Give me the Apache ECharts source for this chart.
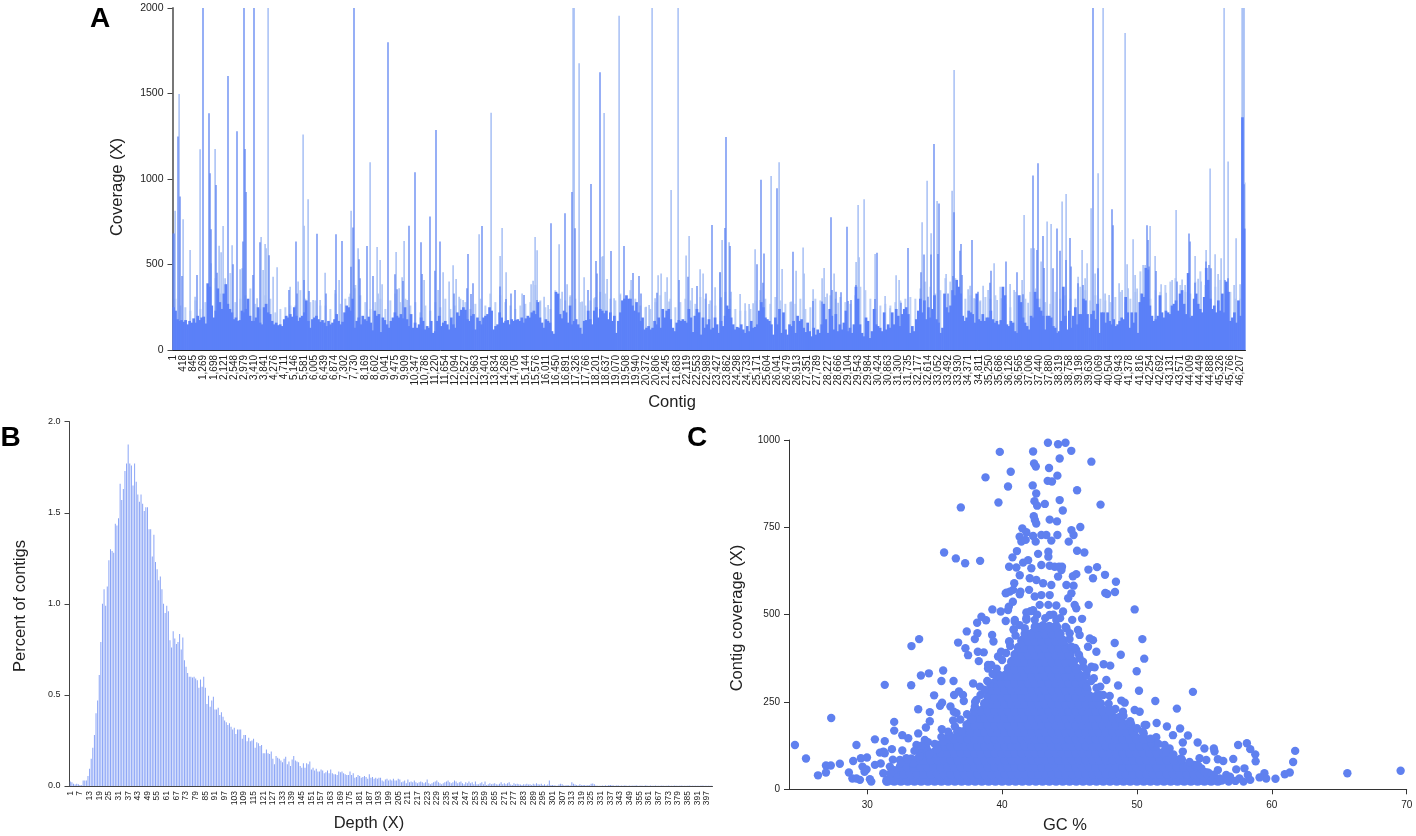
<!DOCTYPE html>
<html><head><meta charset="utf-8">
<style>html,body{margin:0;padding:0;background:#fff}#c{width:1416px;height:836px}</style>
<script src="https://cdn.jsdelivr.net/npm/echarts@6/dist/echarts.min.js"></script>
</head><body><div id="c"></div>
<script>
const contigTicks=["1","418","845","1,269","1,698","2,121","2,548","2,979","3,410","3,841",
"4,276","4,711","5,146","5,581","6,005","6,439","6,874","7,302","7,730","8,169",
"8,602","9,041","9,475","9,909","10,347","10,786","11,220","11,654","12,094","12,527",
"12,963","13,401","13,834","14,268","14,705","15,144","15,576","16,011","16,450","16,891",
"17,326","17,766","18,201","18,637","19,070","19,508","19,940","20,372","20,806","21,245",
"21,683","22,119","22,553","22,989","23,427","23,862","24,298","24,733","25,171","25,604",
"26,041","26,479","26,913","27,351","27,789","28,227","28,666","29,104","29,543","29,984",
"30,424","30,863","31,300","31,735","32,177","32,614","33,052","33,492","33,930","34,371",
"34,811","35,250","35,686","36,126","36,565","37,006","37,440","37,880","38,319","38,758",
"39,198","39,630","40,069","40,504","40,943","41,378","41,816","42,254","42,692","43,131",
"43,571","44,009","44,449","44,888","45,326","45,766","46,207"];
// A: typical coverage, five readings between neighbouring tick labels
const coverageBase=[
250,230,180,170,175, 165,175,150,170,160, 185,160,200,175,190, 195,155,390,370,260, 190,230,360,280,240,
330,385,270,240,220, 180,190,170,175,230, 220,240,300,200,170, 170,190,250,160,150, 250,270,220,210,170,
150,160,145,150,140, 180,200,190,210,195, 250,200,170,190,200, 220,290,170,130,180, 190,200,180,165,175,
160,140,170,150,160, 180,210,170,150,165, 220,260,250,230,300, 130,170,190,150,200, 180,170,195,160,115,
230,200,210,105,190, 175,150,130,170,190, 220,200,190,210,185, 250,180,140,210,130, 160,130,150,190,170,
120,140,130,170,100, 110,170,200,140,160, 170,150,120,190,150, 130,220,200,235,250, 235,180,170,200,210,
120,190,170,150,190, 200,210,250,230,120, 140,150,220,190,160, 170,175,150,180,170, 175,180,170,190,160,
185,200,190,220,230, 210,280,190,160,130, 180,170,160,110,95, 340,330,210,185,230, 220,160,260,150,170,
180,150,130,95,170, 175,230,180,150,230, 250,190,240,230,215, 230,180,220,170,200, 100,170,220,290,300,
320,300,300,260,230, 280,220,170,190,120, 130,140,120,130,170, 150,190,130,240,190, 230,240,180,130,110,
160,175,170,180,170, 160,240,190,105,200, 240,220,90,190,130, 150,180,120,130,190, 150,100,170,140,200,
260,240,190,150,120, 135,130,150,120,100, 140,110,170,130,135, 150,230,280,250,190, 180,170,150,90,190,
150,240,100,220,120, 90,150,140,170,100, 200,170,180,130,105, 160,110,80,130,90, 120,100,150,270,180,
100,240,200,120,210, 110,150,120,160,230, 110,130,100,150,370, 300,150,100,80,190, 170,70,110,240,150,
140,130,110,220,120, 150,130,220,150,240, 200,140,210,240,250, 210,100,140,110,180, 230,300,220,290,180,
250,190,240,320,180, 160,100,130,330,250, 220,260,350,320,410, 370,330,200,170,190, 230,220,210,160,330,
180,170,210,170,190, 190,230,180,160,170, 150,175,370,320,150, 140,170,160,110,100, 320,280,190,160,140,
120,200,190,340,300, 250,230,200,120,200, 200,190,140,130,100, 110,170,370,200,120, 230,130,200,250,150,
210,210,300,290,210, 130,210,230,180,270, 100,220,220,160,220, 170,150,180,140,150, 170,190,180,310,220,
130,220,160,220,100, 280,330,310,480,470, 260,200,170,180,200, 320,220,190,230,220, 210,260,270,290,230,
330,350,270,210,450, 190,200,300,330,270, 240,220,310,480,410, 300,240,260,220,290, 230,330,220,400,340,
170,190,220,160,290, 200,1361,710];
// A: pale fringe above the solid band, two readings per tick interval
const coverageFringe=[
300,260,250,230,290,240,280,300,420,330,380,450,280,300,320,360,270,240,320,300,
220,240,250,260,260,350,300,280,290,260,260,240,330,270,300,330,380,320,280,240,
280,300,240,290,330,280,300,260,280,220,260,230,280,250,300,240,260,300,280,240,
270,300,260,330,280,320,280,260,240,260,270,280,380,290,250,240,350,300,290,320,
300,280,260,290,310,340,330,300,290,330,300,350,300,260,250,240,280,320,340,300,
250,280,300,290,270,310,300,290,260,300,340,300,240,230,230,240,290,350,300,270,
310,290,270,280,270,300,240,250,300,290,310,320,300,310,280,270,320,370,350,300,
240,260,270,260,280,290,300,310,300,360,400,370,330,350,420,400,420,330,300,320,
300,290,310,300,320,370,270,250,340,320,300,340,360,300,280,270,340,300,320,300,
300,370,350,290,320,300,290,280,310,340,280,300,340,460,320,300,350,340,380,400,
420,380,340,330,400,460,380,350,370,410,300,340,300,300];
// A: isolated high contigs [contig bin, coverage]
const paleSpikes=[[2,815],[6,1497],[10,764],[17,585],[22,312],[27,1174],[38,507],[42,1176],[46,610],[48,571],[50,725],[52,419],[59,612],[67,472],[69,478],[84,302],[88,661],[90,468],[92,620],[93,595],[95,2000],[100,429],[104,484],[117,370],[125,400],[130,1260],[131,727],[135,881],[140,292],[147,292],[152,452],[162,351],[166,410],[176,312],[178,815],[182,361],[185,595],[197,1098],[204,603],[205,331],[207,526],[209,384],[223,573],[226,361],[229,425],[231,638],[234,292],[251,410],[265,351],[270,454],
[276,400],[280,495],[283,415],[286,312],[290,292],[306,677],[318,1388],[327,550],[329,714],[333,454],[349,331],[358,384],[360,405],[362,661],[364,583],[367,283],[371,312],[375,263],[386,618],[389,341],[394,384],[397,312],[400,2000],[401,2000],[406,1677],[409,283],[411,425],[421,302],[429,546],[430,550],[431,1386],[434,415],[441,302],[446,1954],[447,322],[458,410],[473,253],[476,263],[479,2000],[482,302],[485,437],[488,448],[494,425],[496,283],[498,936],[505,2000],[513,552],[516,667],[519,363],[527,472],[530,448],[536,269],[542,367],[547,454],
[549,643],[556,630],[558,341],[567,328],[572,273],[576,269],[580,273],[582,589],[587,292],[598,1018],[606,1098],[609,474],[618,283],[623,464],[630,600],[631,448],[640,355],[649,419],[651,480],[654,331],[661,448],[665,277],[683,515],[685,848],[686,542],[691,881],[702,562],[712,316],[717,244],[723,437],[726,410],[749,747],[754,990],[758,683],[764,872],[773,445],[779,932],[781,1638],[795,355],[797,376],[801,302],[807,283],[810,376],[815,351],[821,507],
[824,292],[828,302],[837,386],[841,351],[849,410],[851,790],[855,277],[858,595],[861,595],[868,517],[874,751],[878,737],[889,868],[893,913],[905,429],[909,585],[912,419],[914,507],[918,829],[922,448],[925,1033],[930,2000],[932,331],[936,322],[946,390],[949,351],[952,1854],[954,501],[955,361],[960,647],[962,439],[964,359],[968,331],[970,497],[972,497],[977,725],[982,550],[988,384],[993,335],[999,410],[1003,819],[1009,413],[1012,380],[1022,550],[1025,417],[1028,400],[1033,585],[1037,1061],[1042,560],[1045,445],[1048,536],[1051,2000],[1055,1102],[1061,380],[1063,653],[1067,384],[1069,2000],[1070,2000],[1071,2000],[1072,979]];
const strongSpikes=[[0,682],[1,682],[5,1248],[7,897],[9,433],[24,439],[30,2000],[36,1385],[37,1033],[38,706],[43,965],[44,452],[55,1603],[60,501],[64,1279],[70,634],[71,2000],[72,1176],[73,924],[80,439],[81,2000],[87,630],[96,554],[116,351],[123,634],[124,331],[131,410],[136,345],[144,680],[153,331],[163,677],[169,638],[178,487],[180,716],[181,2000],[186,530],[187,419],[194,608],[200,433],[215,1800],[222,443],[224,355],[230,404],[236,727],[242,1039],[248,630],[249,445],[257,780],[262,464],[263,1287],[267,634],
[281,331],[294,361],[295,561],[298,328],[300,390],[309,725],[327,371],[333,298],[338,331],[342,351],[351,322],[364,293],[378,741],[392,800],[399,924],[402,712],[415,351],[418,971],[423,520],[424,448],[427,1624],[438,579],[451,608],[460,450],[466,433],[468,331],[484,335],[506,410],[515,429],[524,374],[533,331],[539,731],
[547,454],[548,308],[552,714],[553,1246],[557,608],[584,501],[588,995],[590,394],[591,565],[604,946],[620,575],[640,287],[649,283],[658,776],[659,351],[663,341],[668,337],[674,721],[675,287],[678,292],[683,380],[702,298],[704,569],[728,277],[735,597],[748,454],[751,558],[755,312],[758,558],[761,1205],[765,562],[766,856],[775,331],[780,433],[781,805],[787,581],[788,620],[789,439],[799,643],[805,341],[817,394],[818,464],
[833,517],[844,454],[850,326],[860,1020],[864,585],[865,1092],[870,667],[871,480],[880,478],[884,710],[887,581],[893,526],[897,655],[898,488],[905,390],[910,380],[920,2000],[925,478],[939,823],[940,729],[974,729],[975,643],[976,488],[983,462],[1004,400],[1016,682],[1017,634],[1022,394],[1033,517],[1036,497],[1038,478],[1052,410],[1055,419],[1071,969]];

// B: percent of contigs for depth 1..400
const depthPercent=[
.025,.02,.012,.008,.012,.01,.005,.004,.03,.03,
.03,.055,.095,.15,.21,.28,.40,.47,.61,.79,
1.0,1.08,.99,1.095,1.24,1.30,1.29,1.28,1.44,1.43,
1.47,1.66,1.57,1.63,1.73,1.77,1.875,1.77,1.76,1.65,
1.77,1.67,1.60,1.56,1.60,1.55,1.51,1.53,1.53,1.41,
1.41,1.26,1.38,1.23,1.19,1.13,1.15,1.08,1.0,.95,
.99,.96,.80,.76,.85,.81,.78,.79,.835,.75,
.815,.69,.655,.62,.60,.60,.595,.60,.59,.58,
.54,.585,.545,.60,.54,.45,.495,.435,.47,.49,
.42,.42,.43,.39,.405,.38,.36,.35,.335,.345,
.325,.31,.32,.285,.31,.31,.31,.26,.28,.28,
.245,.265,.245,.25,.26,.21,.24,.235,.22,.225,
.18,.18,.20,.18,.175,.19,.15,.12,.165,.155,
.15,.14,.13,.15,.16,.12,.135,.11,.145,.165,
.14,.135,.13,.11,.10,.125,.10,.125,.12,.135,
.09,.10,.085,.095,.08,.08,.09,.085,.07,.075,
.085,.07,.09,.07,.065,.065,.06,.08,.075,.08,
.07,.065,.06,.06,.08,.06,.07,.045,.05,.06,
.055,.045,.05,.055,.05,.04,.065,.045,.05,.04,
.045,.04,.045,.045,.03,.025,.035,.04,.03,.035,
.03,.04,.03,.03,.04,.035,.02,.025,.03,.015,
.035,.02,.025,.02,.03,.02,.015,.02,.025,.02,
.015,.02,.035,.015,.01,.015,.02,.025,.03,.02,
.015,.01,.015,.02,.025,.03,.02,.015,.02,.03,
.025,.015,.02,.025,.015,.01,.02,.015,.025,.015,
.02,.01,.025,.01,.01,.015,.02,.01,.025,.005,
.01,.015,.01,.012,.015,.01,.008,.012,.02,.01,
.015,.01,.015,.02,.008,.005,.015,.01,.012,.01,
.008,.006,.01,.008,.012,.008,.01,.006,.012,.008,
.015,.01,.008,.012,.006,.01,.004,.008,.03,.006,
.005,.004,.003,.002,.008,.012,.01,.004,.003,.005,
.004,.003,.02,.012,.008,.005,.003,.01,.004,.006,
.005,.003,.006,.004,.012,.014,.01,.003,.002,.002,
.002,.003,.002,.004,.002,.005,.006,.004,.003,.002,
.004,.003,.002,.003,.002,.004,.002,.002,.003,.002,
.003,.002,.004,.002,.002,.003,.002,.002,.004,.002,
.002,.003,.002,.002,.003,.002,.002,.002,.003,.002,
.002,.002,.003,.002,.002,.002,.003,.002,.002,.002,
.003,.002,.002,.002,.002,.003,.002,.002,.002,.002,
.002,.002,.002,.003,.002,.002,.002,.002,.002,.002];

// C: scattered contigs [GC %, coverage]
const outlierContigs=[[24.64,127],[25.46,88],[26.35,40],[26.94,48],[26.94,68],[27.3,68],[27.97,73],[27.33,204],[28.64,48],[28.96,81],[29.2,127],[28.9,31],[29.2,31],[29.46,27],[29.53,89],[29.98,91],[29.65,65],[29.95,57],[29.8,50],[30.3,22],[30.2,29],[30.57,143],[30.57,70],[31,74],[30.94,105],[31.2,108],[31.3,138],[31.3,299],[31.83,115],[32,193],[32,168],[32.6,111],[32.6,155],[33.04,146],[33.26,298],[33.28,410],[33.85,430],[33.78,229],[33.78,160],[33.98,326],[34.57,332],[34.64,221],[34.64,195],[34.35,177],[35.63,340],[35.5,310],[36.4,310],[34.96,269],[35.4,239],[35.55,248],[35.53,172],[36.17,237],[36.42,222],[36.62,218],[36.37,197],[36.44,270],[36.8,280],[37.1,270],[37.16,253],[35.7,678],[36.57,661],[37.26,647],[36.94,807],[38.37,654],[36.74,420],[37.38,452],[37.28,404],[37.48,384],[37.98,430],[38.17,447],[38.15,477],[38.47,494],[38.81,484],[39.28,515],[39.26,442],[39.36,423],[38.2,394],[38.64,392],[39.93,394],[38.27,367],[38.96,356],[39.2,356],[39.7,380],[38.77,893],[39.73,821],[39.83,966],[40.44,867],[40.64,909],[39.9,509],[40.27,482],[40.44,513],[40.5,523],[40.8,537],[40.27,561],[40.57,566],[40.9,590],[40.94,480],[40.86,458],[40.57,423],[40.52,637],[41.06,635],[40.77,664],[41.1,682],[41.36,566],[41.3,723],[41.5,747],[41.8,736],[41.43,709],[41.75,714],
[42.3,967],[42.37,933],[42.5,924],[42.27,870],[42.53,847],[42.4,825],[42.6,812],[43.17,817],[42.35,782],[42.43,771],[42.53,761],[43.53,772],[44.07,767],[43.4,992],[44.15,988],[44.7,992],[45.13,969],[44.27,947],[43.48,920],[44.1,898],[43.38,883],[43.7,881],[44.27,828],[44.5,798],[45.56,856],[46.62,938],[47.3,815],[45.8,751],[45.14,742],[45.3,728],[44.94,709],[45.56,683],[46.1,678],[46.4,629],[47.04,636],[46.74,604],[47.63,614],[48.44,594],[48.37,565],[47.65,562],[47.8,559],[46.42,528],[45.93,488],[49.83,515],[50.4,430],[50.54,374],[49.98,338],[50.15,282],[54.15,279],[51.36,253],[52.96,231],[48.35,419],[48.8,385],[47.53,358],[48.02,354],[47.73,313],[48.6,297],[46.37,408],[46.99,394],[46.74,427],[46.5,432],[45.75,442],[45.63,456],[45.2,485],[45.5,518],[44.9,547],[45.5,616],[45.25,610],[45.3,583],[44.44,637],
[42.3,725],[42.91,728],[43.28,728],[44.1,728],[43.65,712],[42.49,709],[42.67,674],[43.43,680],[43.43,666],[41.93,656],[41.56,649],[42.17,633],[42.91,642],[43.53,640],[43.9,637],[44.22,637],[44.4,628],[41.31,613],[42.05,604],[42.54,599],[43.04,590],[43.65,585],[44.15,609],[44.77,585],[42,571],[40.32,563],[40.81,571],[41.31,558],[42.42,552],[42.91,556],[43.53,556],[41.8,506],[42.3,513],[42.79,528],[43.43,528],[44.02,526],[40.94,485],[41.8,485],[42.42,485],[43.04,470],[43.53,499],[44.02,485],[44.52,509],[40.86,456],[41.68,461],[40.52,423],[45.14,561],[45.38,528],
[46.62,351],[46.86,349],[46.25,327],[46.8,318],[47.28,294],[47.98,267],[48.84,254],[49.09,248],[49.83,227],[50.2,222],[48.96,222],[49.4,189],[50.69,184],[50.44,165],[49.7,165],[52.67,155],[51.06,132],[52.05,127],[52.42,117],[46.25,294],[47.2,270],[45.5,399],[45.75,375],[46,351],[45.14,408],[45.01,447],[44.77,461],
[37.85,303],[38.35,294],[37.98,237],[38.1,256],[38.72,246],[39.09,303],[39.83,322],[38.96,346],[37.36,184],[35.63,136],[36.12,155],[34.27,141],[33.65,127],[34.4,117],[31.68,65],[32.42,84],[32.9,89],[33.4,74],[31.3,103],[31.19,46],[31.43,22],
[51.46,190],[52.22,180],[53.2,174],[50.57,184],[53.78,154],[51.43,149],[53.4,134],[54.5,134],[53.4,108],[55,117],[55.7,117],[55.75,108],[54.64,89],[55.14,84],[56,86],[56.4,81],[57.14,87],[57.5,127],[58.15,132],[58.4,115],[58.77,100],[58.8,80],[61.73,110],[61.58,78],[61.33,48],[60.96,43],[60.27,30],[59.45,46],[59.58,31],[59.09,34],[65.6,46],[69.55,53],[57.97,60],[57.36,57],[56.62,41],[56,55],[55.63,29],[58.22,41],[57.6,31],[56.9,36],[56.14,31],[54.77,60],[54.27,70],
[33.5,110],[34,125],[34.5,135],[35,130],[35.5,150],[35.2,115],[34.6,100],[33.9,95],[33,85],[32.5,75],[32,55],[31.7,45],[31.9,85],[36,165],[36.5,180],[37,165],[36.9,200],[37.4,215],[37.8,200],[38,250],[38.4,270],[38.7,285],[38.9,310],[39.3,330],[39.6,345],[40,370],[40.3,390],[40.6,410],[41,440],[41.3,470],[41.8,490],[42.1,510],[42.6,500],[43.2,490],[43.8,500],[44.3,490],[44.7,465],[45,430],[45.4,405],[45.7,385],[46,365],[46.3,340],[46.6,310],[47,290],[47.5,270],[47.9,245],[48.4,230],[49,210],[49.5,195],[50,175],[50.5,160],[51,145],[51.6,130],[52.2,105],[52.7,100],[53.3,85],[53.9,78],[54.5,68],[55,50],[55.7,42],[56.3,25],[56.8,22],[57.3,24],[57.9,22],[58.4,27]];
// C: the dense core, GC % readings at each coverage level
const coreLevels=[25,45,65,85,105,125,145,165,185,205,225,245,265,285,305,325,345,365,385,405,425,445,465];
const coreGc=[
[31.5,32,32.5,33,33.5,34,34.5,35,35.5,36,36.5,37,37.5,38,38.5,39,39.5,40,40.5,41,41.5,42,42.5,43,43.5,44,44.5,45,45.5,46,46.5,47,47.5,48,48.5,49,49.5,50,50.5,51,51.5,52,52.5,53,53.5,54,54.5,55,55.5,56],
[32.25,32.75,33.25,33.75,34.25,34.75,35.25,35.75,36.25,36.75,37.25,37.75,38.25,38.75,39.25,39.75,40.25,40.75,41.25,41.75,42.25,42.75,43.25,43.75,44.25,44.75,45.25,45.75,46.25,46.75,47.25,47.75,48.25,48.75,49.25,49.75,50.25,50.75,51.25,51.75,52.25,52.75,53.25,53.75,54.25,54.75,55.25],
[32.5,33,33.5,34,34.5,35,35.5,36,36.5,37,37.5,38,38.5,39,39.5,40,40.5,41,41.5,42,42.5,43,43.5,44,44.5,45,45.5,46,46.5,47,47.5,48,48.5,49,49.5,50,50.5,51,51.5,52,52.5,53,53.5,54,54.5],
[33.25,33.75,34.25,34.75,35.25,35.75,36.25,36.75,37.25,37.75,38.25,38.75,39.25,39.75,40.25,40.75,41.25,41.75,42.25,42.75,43.25,43.75,44.25,44.75,45.25,45.75,46.25,46.75,47.25,47.75,48.25,48.75,49.25,49.75,50.25,50.75,51.25,51.75,52.25,52.75,53.25],
[34,34.5,35,35.5,36,36.5,37,37.5,38,38.5,39,39.5,40,40.5,41,41.5,42,42.5,43,43.5,44,44.5,45,45.5,46,46.5,47,47.5,48,48.5,49,49.5,50,50.5,51,51.5,52],
[35.25,35.75,36.25,36.75,37.25,37.75,38.25,38.75,39.25,39.75,40.25,40.75,41.25,41.75,42.25,42.75,43.25,43.75,44.25,44.75,45.25,45.75,46.25,46.75,47.25,47.75,48.25,48.75,49.25,49.75,50.25,50.75,51.25],
[36,36.5,37,37.5,38,38.5,39,39.5,40,40.5,41,41.5,42,42.5,43,43.5,44,44.5,45,45.5,46,46.5,47,47.5,48,48.5,49,49.5,50,50.5],
[36.75,37.25,37.75,38.25,38.75,39.25,39.75,40.25,40.75,41.25,41.75,42.25,42.75,43.25,43.75,44.25,44.75,45.25,45.75,46.25,46.75,47.25,47.75,48.25,48.75,49.25,49.75],
[37.5,38,38.5,39,39.5,40,40.5,41,41.5,42,42.5,43,43.5,44,44.5,45,45.5,46,46.5,47,47.5,48,48.5,49,49.5],
[37.75,38.25,38.75,39.25,39.75,40.25,40.75,41.25,41.75,42.25,42.75,43.25,43.75,44.25,44.75,45.25,45.75,46.25,46.75,47.25,47.75,48.25,48.75],
[38,38.5,39,39.5,40,40.5,41,41.5,42,42.5,43,43.5,44,44.5,45,45.5,46,46.5,47,47.5,48],
[38.75,39.25,39.75,40.25,40.75,41.25,41.75,42.25,42.75,43.25,43.75,44.25,44.75,45.25,45.75,46.25,46.75,47.25],
[39,39.5,40,40.5,41,41.5,42,42.5,43,43.5,44,44.5,45,45.5,46,46.5,47],
[39.25,39.75,40.25,40.75,41.25,41.75,42.25,42.75,43.25,43.75,44.25,44.75,45.25,45.75,46.25],
[39.5,40,40.5,41,41.5,42,42.5,43,43.5,44,44.5,45,45.5,46],
[39.75,40.25,40.75,41.25,41.75,42.25,42.75,43.25,43.75,44.25,44.75,45.25,45.75],
[40.5,41,41.5,42,42.5,43,43.5,44,44.5,45,45.5],
[40.75,41.25,41.75,42.25,42.75,43.25,43.75,44.25,44.75,45.25],
[41,41.5,42,42.5,43,43.5,44,44.5,45],
[41.25,41.75,42.25,42.75,43.25,43.75,44.25,44.75],
[41.5,42,42.5,43,43.5,44,44.5],
[41.75,42.25,42.75,43.25,43.75,44.25],
[42.5,43,43.5,44]];
const gcTicks=[30,40,50,60,70];

const FONT='"Liberation Sans",Arial,sans-serif';
const INK='#222';
const fineBins=1073;
const spikeSeries=list=>{const a=new Array(fineBins).fill(null);list.forEach(p=>{a[p[0]]=p[1]});return a};
const fringeSeries=()=>{const a=new Array(fineBins).fill(null);coverageFringe.forEach((v,i)=>{a[i*5+2]=v});return a};
const contigCats=coverageBase.map((_,i)=>i%5===0?contigTicks[i/5]:'');
const fineCats=Array.from({length:fineBins},(_,i)=>i);
const depthCats=depthPercent.map((_,i)=>String(i+1));
const corePoints=[];
coreLevels.forEach((c,i)=>coreGc[i].forEach(g=>corePoints.push([g,c])));

const blue='#5b80f8';
const plain=v=>String(v);
const lab=(text,x,y,size,rot,bold)=>({type:'text',x,y,rotation:rot?Math.PI/2:0,silent:true,style:{text,fill:bold?'#000':INK,textAlign:'center',textVerticalAlign:'middle',font:(bold?'bold ':'')+size+'px '+FONT}});

const chart=echarts.init(document.getElementById('c'),null,{renderer:'canvas'});
chart.setOption({
 animation:false,backgroundColor:'#fff',textStyle:{fontFamily:FONT},
 grid:[
  {left:172.5,top:8,width:1073,height:342},
  {left:69.5,top:421.7,width:643,height:364.3},
  {left:789,top:440,width:617.7,height:349.3}],
 xAxis:[
  {type:'category',gridIndex:0,data:contigCats,axisTick:{show:false},axisLine:{lineStyle:{color:'#222',width:1}},
   axisLabel:{interval:4,rotate:90,margin:5,fontSize:10,color:INK,fontFamily:FONT}},
  {type:'category',gridIndex:0,data:fineCats,show:false},
  {type:'category',gridIndex:1,data:depthCats,axisTick:{show:false},axisLine:{lineStyle:{color:'#444',width:1}},
   axisLabel:{interval:5,rotate:90,margin:5,fontSize:8.5,color:INK,fontFamily:FONT}},
  {type:'value',gridIndex:2,min:24.2,max:70,splitLine:{show:false},
   axisLine:{onZero:false,lineStyle:{color:'#333',width:1}},
   axisTick:{show:true,length:5,customValues:gcTicks,lineStyle:{color:'#333'}},
   axisLabel:{customValues:gcTicks,margin:11,fontSize:10,color:INK,fontFamily:FONT}}],
 yAxis:[
  {type:'value',gridIndex:0,min:0,max:2000,interval:500,splitLine:{show:false},
   axisLine:{show:true,lineStyle:{color:'#777',width:2}},axisTick:{show:true,length:5,lineStyle:{color:'#444'}},
   axisLabel:{margin:9,fontSize:10.5,color:INK,fontFamily:FONT,formatter:plain}},
  {type:'value',gridIndex:1,min:0,max:2,interval:.5,splitLine:{show:false},
   axisLine:{show:true,lineStyle:{color:'#444',width:1}},axisTick:{show:true,length:5,lineStyle:{color:'#444'}},
   axisLabel:{margin:9,fontSize:9,color:INK,fontFamily:FONT,formatter:v=>v.toFixed(1)}},
  {type:'value',gridIndex:2,min:0,max:1000,interval:250,splitLine:{show:false},
   axisLine:{show:true,lineStyle:{color:'#333',width:1}},axisTick:{show:true,length:5,lineStyle:{color:'#333'}},
   axisLabel:{margin:9,fontSize:10,color:INK,fontFamily:FONT,formatter:plain}}],
 series:[
  {type:'bar',xAxisIndex:1,yAxisIndex:0,data:fringeSeries(),barWidth:2,barGap:'-100%',itemStyle:{color:'#bccff7'},silent:true,z:1},
  {type:'bar',xAxisIndex:1,yAxisIndex:0,data:spikeSeries(paleSpikes),barWidth:1.5,barGap:'-100%',itemStyle:{color:'#a6bff5'},silent:true,z:2},
  {type:'bar',xAxisIndex:1,yAxisIndex:0,data:spikeSeries(strongSpikes),barWidth:1.3,barGap:'-100%',itemStyle:{color:'#5f84f2'},silent:true,z:3},
  {type:'bar',xAxisIndex:0,yAxisIndex:0,data:coverageBase,barWidth:2.7,itemStyle:{color:blue},silent:true,z:4},
  {type:'bar',xAxisIndex:2,yAxisIndex:1,data:depthPercent,barWidth:1,itemStyle:{color:'#8aa4f6'},silent:true},
  {type:'scatter',xAxisIndex:3,yAxisIndex:2,data:corePoints,symbolSize:10.5,itemStyle:{color:'#5f80ef',opacity:1},silent:true},
  {type:'scatter',xAxisIndex:3,yAxisIndex:2,data:outlierContigs,symbolSize:8.4,itemStyle:{color:'#5f80ef',opacity:1},silent:true}],
 graphic:[
  lab('A',100,19,28,false,true),lab('B',10.5,438,28,false,true),lab('C',697,438,28,false,true),
  lab('Coverage (X)',117,187,16.5,true),lab('Contig',672,402,16.5),
  lab('Percent of contigs',20,606,16.5,true),lab('Depth (X)',369,823,16.5),
  lab('Contig coverage (X)',737,618,16.5,true),lab('GC %',1065,825,16.5)]
});
</script></body></html>
